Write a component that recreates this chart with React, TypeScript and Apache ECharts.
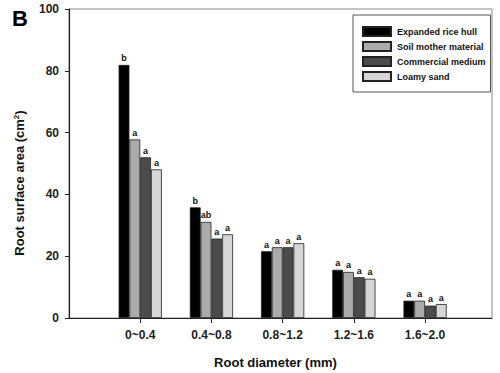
import React, { useEffect, useRef } from "react";
import * as echarts from "echarts";

const categories = ["0~0.4", "0.4~0.8", "0.8~1.2", "1.2~1.6", "1.6~2.0"];
const seriesNames = ["Expanded rice hull", "Soil mother material", "Commercial medium", "Loamy sand"];
const riceHull = [81.9, 35.8, 21.6, 15.6, 5.6];
const soilMother = [57.8, 31.1, 22.9, 14.9, 5.6];
const commercial = [52.0, 25.7, 22.9, 13.2, 4.0];
const loamySand = [48.1, 27.1, 24.2, 12.7, 4.5];
const riceHullLetters = ["b", "b", "a", "a", "a"];
const soilMotherLetters = ["a", "ab", "a", "a", "a"];
const commercialLetters = ["a", "a", "a", "a", "a"];
const loamySandLetters = ["a", "a", "a", "a", "a"];
const yTicks = [0, 20, 40, 60, 80, 100];

const colors = ["#000000", "#ababab", "#4b4b4b", "#d6d6d6"];
const FONT = "Liberation Sans, Arial, sans-serif";

export default function App() {
  const ref = useRef<HTMLDivElement>(null);
  useEffect(() => {
    if (!ref.current) return;
    const chart = echarts.init(ref.current, null, { renderer: "svg" });
    const values = [riceHull, soilMother, commercial, loamySand];
    const letters = [riceHullLetters, soilMotherLetters, commercialLetters, loamySandLetters];
    const series = seriesNames.map((name, si) => ({
      type: "bar",
      name,
      data: values[si].map((v, i) => [i + 1, v]),
      barWidth: 10.8,
      barGap: "0%",
      itemStyle: { color: colors[si], borderColor: "#222", borderWidth: 0.8 },
      label: {
        show: true,
        position: "top",
        distance: 2,
        fontSize: 9,
        fontWeight: "bold",
        fontFamily: FONT,
        color: "#111",
        formatter: (p: any) => letters[si][p.dataIndex],
      },
    }));
    chart.setOption({
      animation: false,
      textStyle: { fontFamily: FONT },
      grid: {
        left: 69,
        right: 8,
        top: 9,
        bottom: 55,
        show: true,
        borderColor: "#888",
        borderWidth: 1,
      },
      legend: {
        orient: "vertical",
        left: 353,
        top: 15,
        padding: [11, 5, 10, 9],
        borderColor: "#555",
        borderWidth: 1,
        backgroundColor: "#fff",
        itemWidth: 28,
        itemHeight: 9,
        itemGap: 4,
        icon: "rect",
        textStyle: { fontSize: 9, fontWeight: "bold", fontFamily: FONT, color: "#111", lineHeight: 11, padding: [0, 0, 0, 1] },
        data: seriesNames,
      },
      xAxis: {
        type: "value",
        min: 0,
        max: 5.94,
        interval: 1,
        splitLine: { show: false },
        axisLine: { show: true, onZero: false, lineStyle: { color: "#222", width: 1.2 } },
        axisTick: { show: true, length: 5, customValues: [1, 2, 3, 4, 5], lineStyle: { color: "#222" } },
        axisLabel: {
          customValues: [1, 2, 3, 4, 5],
          formatter: (v: number) => categories[Math.round(v) - 1] ?? "",
          fontSize: 12,
          fontWeight: "bold",
          fontFamily: FONT,
          color: "#222",
          margin: 11,
        },
      },
      yAxis: {
        type: "value",
        min: 0,
        max: 100,
        interval: 20,
        splitLine: { show: false },
        axisLine: { show: true, lineStyle: { color: "#222", width: 1.2 } },
        axisTick: { show: true, length: 4, customValues: yTicks, lineStyle: { color: "#222" } },
        axisLabel: {
          fontSize: 12,
          fontWeight: "bold",
          fontFamily: FONT,
          color: "#222",
          margin: 10,
        },
      },
      graphic: [
        {
          type: "text",
          left: 12,
          top: 7,
          style: { text: "B", fontSize: 22, fontWeight: "bold", fontFamily: FONT, fill: "#000" },
        },
        {
          type: "text",
          x: 275.5,
          y: 362,
          style: {
            text: "Root diameter (mm)",
            fontSize: 13,
            fontWeight: "bold",
            fontFamily: FONT,
            fill: "#111",
            align: "center",
            verticalAlign: "middle",
          },
        },
        {
          type: "text",
          x: 19,
          y: 183,
          rotation: Math.PI / 2,
          style: {
            text: "Root surface area (cm{sup|2})",
            fontSize: 13,
            fontWeight: "bold",
            fontFamily: FONT,
            fill: "#111",
            align: "center",
            verticalAlign: "middle",
            rich: {
              sup: { fontSize: 8, fontWeight: "bold", fontFamily: FONT, fill: "#111", verticalAlign: "top", padding: [0, 0, 6, 0] },
            },
          },
        },
      ],
      series,
    });
    return () => chart.dispose();
  }, []);
  return <div ref={ref} style={{ width: 500, height: 373, position: "absolute", left: 0, top: 0 }} />;
}
